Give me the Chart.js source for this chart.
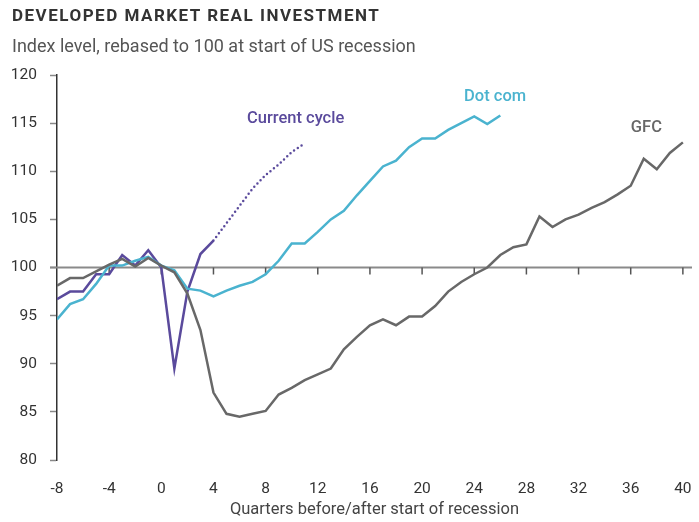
<!DOCTYPE html>
<html>
<head>
<meta charset="utf-8">
<script src="https://cdn.jsdelivr.net/npm/chart.js@4.4.1/dist/chart.umd.min.js"></script>
<style>
  html, body { margin: 0; padding: 0; background: #fff; }
  #wrap { position: relative; width: 699px; height: 522px; }
  #title { position: absolute; left: 12px; top: 5px; font: bold 17px Roboto, sans-serif; letter-spacing: 1.5px; color: #333; }
  #subtitle { position: absolute; left: 12px; top: 35px; font: 18px Roboto, sans-serif; color: #555; }
  canvas { position: absolute; left: 0; top: 0; }
</style>
</head>
<body>
<div id="wrap">
  <canvas id="chart" width="699" height="522"></canvas>
  <div id="title">DEVELOPED MARKET REAL INVESTMENT</div>
  <div id="subtitle">Index level, rebased to 100 at start of US recession</div>
</div>
<script>
// Quarters before/after start of recession
const quarters = [-8, -7, -6, -5, -4, -3, -2, -1, 0, 1, 2, 3, 4, 5, 6, 7, 8, 9, 10, 11, 12,
  13, 14, 15, 16, 17, 18, 19, 20, 21, 22, 23, 24, 25, 26, 27, 28, 29, 30, 31, 32,
  33, 34, 35, 36, 37, 38, 39, 40];

// Series values (index, 100 = start of recession), starting at quarter -8
const gfc = [98.1, 98.9, 98.9, 99.6, 100.3, 100.9, 100.1, 101.0, 100.2, 99.5,
  97.3, 93.5, 87.0, 84.8, 84.5, 84.8, 85.1, 86.8, 87.5, 88.3,
  88.9, 89.5, 91.5, 92.8, 94.0, 94.6, 94.0, 94.9, 94.9, 96.0,
  97.5, 98.5, 99.3, 100.0, 101.3, 102.1, 102.4, 105.3, 104.2, 105.0,
  105.5, 106.2, 106.8, 107.6, 108.5, 111.3, 110.2, 111.9, 113.0];
const dotCom = [94.6, 96.2, 96.7, 98.3, 100.2, 100.2, 100.7, 101.1, 100.2, 99.7,
  97.8, 97.6, 97.0, 97.6, 98.1, 98.5, 99.3, 100.7, 102.5, 102.5,
  103.7, 105.0, 105.9, 107.5, 109.0, 110.5, 111.1, 112.5, 113.4, 113.4,
  114.3, 115.0, 115.7, 114.9, 115.8];
const currentCycle = [96.7, 97.5, 97.5, 99.3, 99.3, 101.3, 100.2, 101.8, 100.0, 89.5,
  97.5, 101.4, 102.8];
// Projection starts at quarter 4
const currentProjection = [102.8, 104.6, 106.4, 108.2, 109.6, 110.7, 112.0, 112.9];
const projectionStart = 4;

const xTicks = [-8, -4, 0, 4, 8, 12, 16, 20, 24, 28, 32, 36, 40];

const PURPLE = '#5a4a9c';
const CYAN = '#4ab3cf';
const GREY = '#686868';
const FONT = 'Roboto, sans-serif';

// pair values with quarters
const toPoints = (values, startQ) => {
  const i0 = quarters.indexOf(startQ);
  return values.map((v, i) => ({ x: quarters[i0 + i], y: v }));
};

// labels placed on the plot
const seriesLabels = [
  { text: 'Current cycle', x: 10.3, y: 115.4, color: PURPLE },
  { text: 'Dot com', x: 25.6, y: 117.7, color: CYAN },
  { text: 'GFC', x: 37.2, y: 114.5, color: GREY },
];

// Baseline at 100 with small quarter ticks under it, plus series labels
const baselinePlugin = {
  id: 'baseline',
  beforeDatasetsDraw(chart) {
    const { ctx, scales: { x, y }, chartArea } = chart;
    const y100 = y.getPixelForValue(100);
    ctx.save();
    ctx.strokeStyle = '#8a8a8a';
    ctx.lineWidth = 2;
    ctx.beginPath();
    ctx.moveTo(chartArea.left - 7, y100);
    ctx.lineTo(chartArea.right, y100);
    ctx.stroke();
    ctx.strokeStyle = '#555';
    ctx.lineWidth = 1.5;
    xTicks.forEach(q => {
      if (q === xTicks[0]) return;
      const px = x.getPixelForValue(q);
      ctx.beginPath();
      ctx.moveTo(px, y100);
      ctx.lineTo(px, y100 + 7);
      ctx.stroke();
    });
    ctx.restore();
  },
  afterDatasetsDraw(chart) {
    const { ctx, scales: { x, y } } = chart;
    ctx.save();
    ctx.font = '500 16.5px ' + FONT;
    ctx.textAlign = 'center';
    ctx.textBaseline = 'middle';
    seriesLabels.forEach(l => {
      ctx.fillStyle = l.color;
      ctx.fillText(l.text, x.getPixelForValue(l.x), y.getPixelForValue(l.y));
    });
    ctx.restore();
  }
};

const lineStyle = {
  borderWidth: 2.5,
  pointRadius: 0,
  tension: 0,
  fill: false,
  borderJoinStyle: 'miter'
};

new Chart(document.getElementById('chart').getContext('2d'), {
  type: 'line',
  data: {
    datasets: [
      { label: 'GFC', data: toPoints(gfc, -8), borderColor: GREY, ...lineStyle },
      { label: 'Dot com', data: toPoints(dotCom, -8), borderColor: CYAN, ...lineStyle },
      { label: 'Current cycle', data: toPoints(currentCycle, -8), borderColor: PURPLE, ...lineStyle },
      {
        label: 'Current cycle (projection)',
        data: toPoints(currentProjection, projectionStart),
        borderColor: PURPLE,
        ...lineStyle,
        borderDash: [0, 4.5],
        borderCapStyle: 'round'
      }
    ]
  },
  options: {
    responsive: false,
    animation: false,
    layout: { padding: { top: 75, right: 7, left: 0, bottom: 0 } },
    plugins: {
      legend: { display: false },
      tooltip: { enabled: false }
    },
    scales: {
      x: {
        type: 'linear',
        min: -8,
        max: 40.7,
        grid: { display: false },
        border: { display: false },
        afterBuildTicks: (scale) => {
          scale.ticks = xTicks.map(v => ({ value: v }));
        },
        afterFit: (scale) => {
          scale.height = 62;
          scale.paddingLeft = 0;
          scale.paddingRight = 0;
        },
        ticks: {
          color: '#333',
          font: { family: FONT, size: 15.5 },
          padding: 12,
          maxRotation: 0,
          autoSkip: false
        },
        title: {
          display: true,
          text: 'Quarters before/after start of recession',
          color: '#444',
          font: { family: FONT, size: 16.5 },
          padding: { top: 3, bottom: 2 }
        }
      },
      y: {
        min: 80,
        max: 120,
        afterFit: (scale) => { scale.width = 57; },
        ticks: {
          stepSize: 5,
          color: '#333',
          font: { family: FONT, size: 15.5 },
          padding: 13
        },
        grid: {
          drawOnChartArea: false,
          drawTicks: true,
          tickLength: 7,
          tickColor: '#888',
          tickWidth: 1.5
        },
        border: { display: true, color: '#333', width: 1.5 }
      }
    }
  },
  plugins: [baselinePlugin]
});
</script>
</body>
</html>
